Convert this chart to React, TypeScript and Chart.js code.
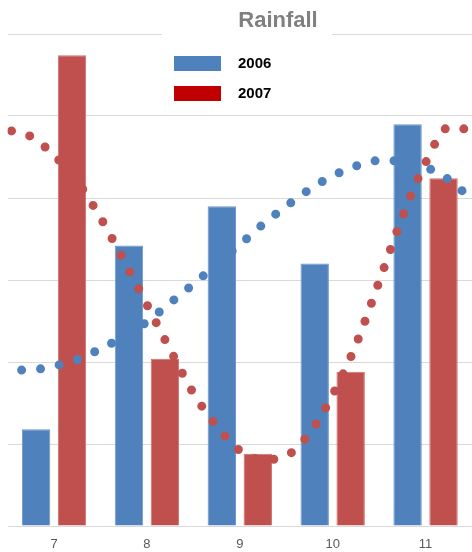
import React, { useEffect, useRef } from "react";
import { Chart, registerables } from "chart.js";

Chart.register(...registerables);

const categories = ["7", "8", "9", "10", "11"];
const rain2006 = [59, 171, 195, 160, 245];
const rain2007 = [287, 102, 44, 94, 212];

const trendX = [6.5, 6.75, 7, 7.25, 7.5, 7.75, 8, 8.25, 8.5, 8.75, 9, 9.25, 9.5, 9.75, 10, 10.25, 10.5, 10.75, 11, 11.25, 11.5];
const trend2006 = [95, 95.2, 97.5, 101.5, 108, 115.5, 124.5, 136, 147.5, 159.5, 171.5, 184, 195, 205.2, 213.5, 219.5, 222.8, 222.5, 218.8, 211.2, 199];
const trend2007 = [241.5, 237.5, 226, 210, 188, 162, 135, 107.5, 81, 61, 46, 40.5, 42.8, 56.5, 80, 110.5, 149, 188.5, 221.5, 243, 241.5];

const yTicksMax = 300;
const yStep = 50;

const BLUE = "#4F81BD";
const RED = "#C0504D";
const LEGEND_RED = "#C00000";

const overlayPlugin = {
  id: "overlay",
  afterDraw(chart: any) {
    const ctx = chart.ctx;
    ctx.save();
    ctx.fillStyle = "#ffffff";
    ctx.fillRect(162, 2, 170, 40);
    ctx.fillStyle = "#808080";
    ctx.font = "bold 22px 'Liberation Sans', Arial, sans-serif";
    ctx.textAlign = "center";
    ctx.textBaseline = "middle";
    ctx.fillText("Rainfall", 278, 21);
    const items = [
      { label: chart.data.datasets[0].label, color: BLUE, y: 56 },
      { label: chart.data.datasets[1].label, color: LEGEND_RED, y: 86 },
    ];
    ctx.font = "bold 15px 'Liberation Sans', Arial, sans-serif";
    ctx.textAlign = "left";
    for (const it of items) {
      ctx.fillStyle = it.color;
      ctx.fillRect(174, it.y, 47, 15);
      ctx.fillStyle = "#000000";
      ctx.fillText(it.label, 238, it.y + 8);
    }
    ctx.restore();
  },
};

export default function App() {
  const barRef = useRef<HTMLCanvasElement | null>(null);
  const lineRef = useRef<HTMLCanvasElement | null>(null);
  useEffect(() => {
    document.body.style.margin = "0";
    const barChart = new Chart(barRef.current!, {
      type: "bar",
      data: {
        labels: categories,
        datasets: [
          {
            label: "2006",
            data: rain2006,
            backgroundColor: BLUE,
            borderColor: "#6F97C9",
            borderWidth: 1,
            categoryPercentage: 0.774,
            barPercentage: 0.79,
          },
          {
            label: "2007",
            data: rain2007,
            backgroundColor: RED,
            borderColor: "#CC706D",
            borderWidth: 1,
            categoryPercentage: 0.774,
            barPercentage: 0.79,
          },
        ],
      },
      options: {
        animation: false,
        responsive: false,
        layout: { padding: { left: 7.6, right: 0, top: 34, bottom: 0 } },
        plugins: {
          legend: { display: false },
          title: { display: false },
          tooltip: { enabled: false },
        },
        scales: {
          x: {
            type: "category",
            offset: true,
            grid: { display: false, drawTicks: false },
            border: { display: false },
            ticks: {
              color: "#595959",
              font: { family: "'Liberation Sans', Arial, sans-serif", size: 13 },
              padding: 11,
            },
            afterFit: (scale: any) => {
              scale.height = 26;
            },
          },
          y: {
            min: 0,
            max: yTicksMax,
            ticks: { display: false, stepSize: yStep },
            grid: { color: "#D9D9D9", lineWidth: 1, drawTicks: false },
            border: { display: false },
            afterFit: (scale: any) => {
              scale.width = 0;
            },
          },
        },
      },
      plugins: [overlayPlugin],
    } as any);

    const lineChart = new Chart(lineRef.current!, {
      type: "line",
      data: {
        datasets: [
          {
            label: "trend 2006",
            data: trendX.map((x, i) => ({ x, y: trend2006[i] })),
            borderColor: BLUE,
            borderWidth: 9,
            borderCapStyle: "round",
            borderDash: [0, 19],
            borderDashOffset: 5,
            pointRadius: 0,
            cubicInterpolationMode: "monotone",
            fill: false,
          },
          {
            label: "trend 2007",
            data: trendX.map((x, i) => ({ x, y: trend2007[i] })),
            borderColor: RED,
            borderWidth: 9,
            borderCapStyle: "round",
            borderDash: [0, 19],
            borderDashOffset: 15,
            pointRadius: 0,
            cubicInterpolationMode: "monotone",
            fill: false,
          },
        ],
      },
      options: {
        animation: false,
        responsive: false,
        layout: { padding: { left: 7.6, right: 0, top: 34, bottom: 26 } },
        plugins: {
          legend: { display: false },
          title: { display: false },
          tooltip: { enabled: false },
        },
        scales: {
          x: { type: "linear", display: false, min: 6.5, max: 11.5 },
          y: { display: false, min: 0, max: yTicksMax },
        },
      },
    } as any);
    return () => {
      barChart.destroy();
      lineChart.destroy();
    };
  }, []);
  return (
    <div style={{ position: "relative", width: 472, height: 552 }}>
      <canvas ref={barRef} width={472} height={552} style={{ position: "absolute", left: 0, top: 0, display: "block" }} />
      <canvas ref={lineRef} width={472} height={552} style={{ position: "absolute", left: 0, top: 0, display: "block" }} />
    </div>
  );
}
